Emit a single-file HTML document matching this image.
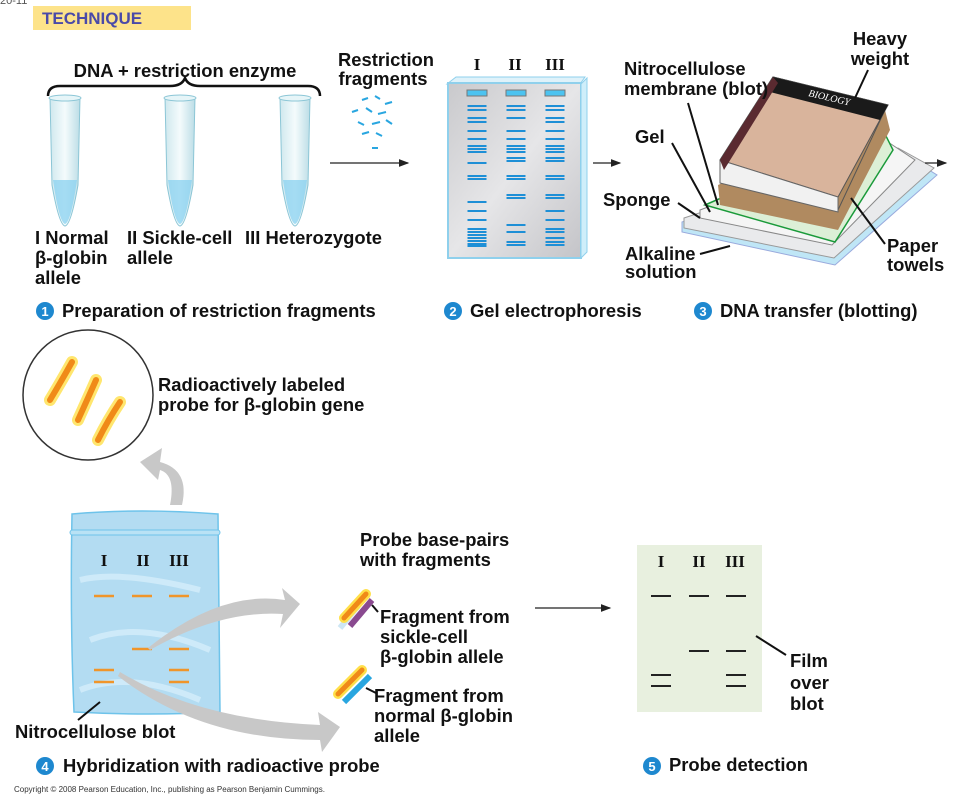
<!DOCTYPE html>
<html><head><meta charset="utf-8"><style>
html,body{margin:0;padding:0;background:#fff;}
svg{display:block;font-family:"Liberation Sans",sans-serif;}
.t{font-weight:bold;font-size:18.4px;fill:#111;}
.r{font-family:"Liberation Serif",serif;font-weight:bold;font-size:17px;fill:#111;}
</style></head><body>
<svg id="fig" width="960" height="799" viewBox="0 0 960 799">
<defs>
<marker id="ah" markerWidth="8" markerHeight="8" refX="7" refY="4" orient="auto"><path d="M0,1 L8,4 L0,7 z" fill="#222"/></marker>
<linearGradient id="tube" x1="0" x2="1"><stop offset="0" stop-color="#cfe8ee"/><stop offset="0.5" stop-color="#f4fbfc"/><stop offset="1" stop-color="#bcdde6"/></linearGradient>
<linearGradient id="gelg" x1="0" y1="0" x2="1" y2="1"><stop offset="0" stop-color="#c9c9cc"/><stop offset="0.5" stop-color="#e6e6e8"/><stop offset="1" stop-color="#c4c4c8"/></linearGradient>
</defs>

<text x="0" y="4" font-size="11" fill="#555">20-11</text>
<rect x="33" y="6" width="158" height="24" fill="#fde38a"/>
<text x="42" y="24" font-size="17" font-weight="bold" fill="#4a4aa8">TECHNIQUE</text>

<text class="t" x="185" y="77" text-anchor="middle">DNA + restriction enzyme</text>
<path d="M48,96 Q48,86 60,86 L170,86 Q182,86 185,78 Q188,86 200,86 L308,86 Q320,86 320,96" fill="none" stroke="#111" stroke-width="2.5"/>
<g id="tubes"></g>
<text class="t" x="35" y="244">I Normal</text>
<text class="t" x="35" y="264">β-globin</text>
<text class="t" x="35" y="284">allele</text>
<text class="t" x="127" y="244">II Sickle-cell</text>
<text class="t" x="127" y="264">allele</text>
<text class="t" x="245" y="244">III Heterozygote</text>

<text class="t" x="386" y="66" text-anchor="middle">Restriction</text>
<text class="t" x="383" y="85" text-anchor="middle">fragments</text>
<g stroke="#29a6e0" stroke-width="2">
<line x1="362" y1="100" x2="368" y2="98"/><line x1="375" y1="96" x2="380" y2="99"/><line x1="385" y1="104" x2="392" y2="102"/>
<line x1="352" y1="112" x2="358" y2="110"/><line x1="366" y1="108" x2="372" y2="112"/><line x1="378" y1="114" x2="386" y2="112"/>
<line x1="358" y1="122" x2="364" y2="125"/><line x1="372" y1="124" x2="380" y2="122"/><line x1="386" y1="120" x2="392" y2="124"/>
<line x1="362" y1="134" x2="369" y2="132"/><line x1="376" y1="133" x2="382" y2="136"/><line x1="372" y1="148" x2="378" y2="148"/>
</g>
<line x1="330" y1="163" x2="408" y2="163" stroke="#222" stroke-width="1.3" marker-end="url(#ah)"/>

<text class="r" x="477" y="70" text-anchor="middle">I</text>
<text class="r" x="515" y="70" text-anchor="middle">II</text>
<text class="r" x="555" y="70" text-anchor="middle">III</text>
<polygon points="447,84 456,77 585,77 580,84" fill="#dff2fa" stroke="#8fd0ec"/>
<rect x="448" y="83" width="133" height="175" fill="url(#gelg)" stroke="#8fd0ec" stroke-width="2"/>
<polygon points="581,84 587,78 587,252 581,258" fill="#cfeefa" stroke="#8fd0ec"/>
<g id="gelbands"></g>
<line x1="593" y1="163" x2="620" y2="163" stroke="#222" stroke-width="1.3" marker-end="url(#ah)"/>

<g>
<polygon points="682,222 900,152 937,175 835,265 682,232" fill="#bfe6f6" stroke="#9ad" />
<polygon points="684,218 898,148 934,168 834,258 684,228" fill="#e9eaec" stroke="#999"/>
<polygon points="700,210 885,140 915,160 832,245 700,218" fill="#f5f5f5" stroke="#888"/>
<polygon points="705,205 882,128 893,150 835,242" fill="#dcefd6" stroke="#1a9a3a" stroke-width="1.5"/>
<polygon points="718,185 885,110 890,130 838,230 720,205" fill="#b08a60"/>
<polygon points="720,160 773,77 888,105 838,197" fill="#d9b49c" stroke="#555"/>
<polygon points="720,160 773,77 888,105 885,110 838,210 720,183" fill="none" stroke="#555"/>
<polygon points="720,160 838,197 838,212 720,183" fill="#f1f1f1" stroke="#666"/>
<polygon points="773,77 888,105 880,120 770,92" fill="#1a1a1a"/>
<polygon points="720,160 773,77 778,83 724,170" fill="#5a2a30"/>
<text x="808" y="96" font-family="Liberation Serif" font-style="italic" font-size="10" fill="#fff" transform="rotate(13 808 96)">BIOLOGY</text>
</g>
<text class="t" x="880" y="45" text-anchor="middle">Heavy</text>
<text class="t" x="880" y="65" text-anchor="middle">weight</text>
<line x1="868" y1="70" x2="855" y2="98" stroke="#111" stroke-width="2"/>
<text class="t" x="624" y="75">Nitrocellulose</text>
<text class="t" x="624" y="95">membrane (blot)</text>
<line x1="688" y1="103" x2="718" y2="205" stroke="#111" stroke-width="2"/>
<text class="t" x="635" y="143">Gel</text>
<line x1="672" y1="143" x2="710" y2="212" stroke="#111" stroke-width="2"/>
<text class="t" x="603" y="206">Sponge</text>
<line x1="678" y1="203" x2="700" y2="218" stroke="#111" stroke-width="2"/>
<text class="t" x="625" y="260">Alkaline</text>
<text class="t" x="625" y="278">solution</text>
<line x1="700" y1="254" x2="730" y2="246" stroke="#111" stroke-width="2"/>
<text class="t" x="887" y="252">Paper</text>
<text class="t" x="887" y="271">towels</text>
<line x1="885" y1="244" x2="851" y2="198" stroke="#111" stroke-width="2"/>
<line x1="925" y1="163" x2="946" y2="163" stroke="#222" stroke-width="1.3" marker-end="url(#ah)"/>

<g><circle cx="45" cy="311" r="9" fill="#1e88cf"/><text x="45" y="316" font-size="13" font-weight="bold" fill="#fff" text-anchor="middle">1</text><text class="t" x="62" y="317">Preparation of restriction fragments</text></g>
<g><circle cx="453" cy="311" r="9" fill="#1e88cf"/><text x="453" y="316" font-size="13" font-weight="bold" fill="#fff" text-anchor="middle">2</text><text class="t" x="470" y="317">Gel electrophoresis</text></g>
<g><circle cx="703" cy="311" r="9" fill="#1e88cf"/><text x="703" y="316" font-size="13" font-weight="bold" fill="#fff" text-anchor="middle">3</text><text class="t" x="720" y="317">DNA transfer (blotting)</text></g>

<circle cx="88" cy="395" r="65" fill="#fff" stroke="#333" stroke-width="1.5"/>
<g stroke="#ffe04a" stroke-width="12" stroke-linecap="round" fill="none" opacity="0.8">
<path d="M50,400 Q62,380 72,362"/><path d="M78,420 Q88,398 96,380"/><path d="M98,440 Q108,420 120,402"/></g>
<g stroke="#f08a18" stroke-width="6" stroke-linecap="round" fill="none">
<path d="M50,400 Q62,380 72,362"/><path d="M78,420 Q88,398 96,380"/><path d="M98,440 Q108,420 120,402"/></g>
<text class="t" x="158" y="391">Radioactively labeled</text>
<text class="t" x="158" y="411">probe for β-globin gene</text>
<path d="M182,505 Q190,470 160,462 L162,448 L140,462 L158,480 L160,470 Q176,475 170,505 z" fill="#c8c8c8"/>

<path d="M72,514 Q140,508 218,514 L220,712 Q150,716 74,712 Q70,620 72,514 z" fill="#b3dcf2" stroke="#6ec3ea" stroke-width="1.5"/>
<rect x="70" y="530" width="150" height="5" rx="2.5" fill="#b9e2f5" stroke="#6ec3ea"/>
<path d="M80,580 Q120,570 200,590 M90,640 Q140,620 210,650 M80,690 Q130,670 200,700" stroke="#d5eefa" stroke-width="6" fill="none" opacity="0.8"/>
<text class="r" x="104" y="566" text-anchor="middle">I</text>
<text class="r" x="143" y="566" text-anchor="middle">II</text>
<text class="r" x="179" y="566" text-anchor="middle">III</text>
<g id="blotbands"></g>
<path d="M148,648 Q220,590 285,600 L282,588 L300,604 L280,628 L283,614 Q220,610 150,650 z" fill="#c8c8c8"/>
<path d="M120,672 Q200,720 320,725 L318,712 L340,727 L322,752 L320,740 Q200,740 118,676 z" fill="#c8c8c8"/>
<line x1="100" y1="702" x2="78" y2="720" stroke="#111" stroke-width="2"/>
<text class="t" x="15" y="738">Nitrocellulose blot</text>

<text class="t" x="360" y="546">Probe base-pairs</text>
<text class="t" x="360" y="566">with fragments</text>
<g>
<line x1="340" y1="628" x2="358" y2="606" stroke="#cde6f4" stroke-width="6"/>
<line x1="350" y1="626" x2="372" y2="600" stroke="#8a4a90" stroke-width="6"/>
<line x1="344" y1="618" x2="366" y2="594" stroke="#ffe04a" stroke-width="10" stroke-linecap="round"/>
<line x1="344" y1="618" x2="366" y2="594" stroke="#f08a18" stroke-width="5" stroke-linecap="round"/>
<line x1="372" y1="605" x2="378" y2="612" stroke="#111" stroke-width="2"/></g>
<text class="t" x="380" y="623">Fragment from</text>
<text class="t" x="380" y="643">sickle-cell</text>
<text class="t" x="380" y="663">β-globin allele</text>
<g>
<line x1="344" y1="702" x2="370" y2="676" stroke="#29a6e0" stroke-width="6"/>
<line x1="338" y1="694" x2="362" y2="670" stroke="#ffe04a" stroke-width="10" stroke-linecap="round"/>
<line x1="338" y1="694" x2="362" y2="670" stroke="#f08a18" stroke-width="5" stroke-linecap="round"/>
<line x1="366" y1="688" x2="376" y2="693" stroke="#111" stroke-width="2"/></g>
<text class="t" x="374" y="702">Fragment from</text>
<text class="t" x="374" y="722">normal β-globin</text>
<text class="t" x="374" y="742">allele</text>
<line x1="535" y1="608" x2="610" y2="608" stroke="#222" stroke-width="1.3" marker-end="url(#ah)"/>

<rect x="637" y="545" width="125" height="167" fill="#e8f0df"/>
<text class="r" x="661" y="567" text-anchor="middle">I</text>
<text class="r" x="699" y="567" text-anchor="middle">II</text>
<text class="r" x="735" y="567" text-anchor="middle">III</text>
<g id="filmbands"></g>
<line x1="756" y1="636" x2="786" y2="655" stroke="#111" stroke-width="2"/>
<text class="t" x="790" y="667">Film</text>
<text class="t" x="790" y="689">over</text>
<text class="t" x="790" y="710">blot</text>

<g><circle cx="45" cy="766" r="9" fill="#1e88cf"/><text x="45" y="771" font-size="13" font-weight="bold" fill="#fff" text-anchor="middle">4</text><text class="t" x="63" y="772">Hybridization with radioactive probe</text></g>
<g><circle cx="652" cy="766" r="9" fill="#1e88cf"/><text x="652" y="771" font-size="13" font-weight="bold" fill="#fff" text-anchor="middle">5</text><text class="t" x="669" y="771">Probe detection</text></g>
<text x="14" y="792" font-size="8" fill="#333">Copyright © 2008 Pearson Education, Inc., publishing as Pearson Benjamin Cummings.</text>
</svg>
<script>
const NS="http://www.w3.org/2000/svg";
const laneNames=["I","II","III"];
const gelLane1=[106,110,118,122,131,139,146,149,152,163,176,179,202,211,220,229,232,235,238,241,244,246];
const gelLane2=[106,110,118,131,139,146,149,152,158,161,176,179,195,198,225,232,242,245];
const gelLane3=[106,110,118,122,131,139,146,149,152,158,161,176,179,195,198,211,220,229,232,238,242,245];
const blotLane1=[596,670,682];
const blotLane2=[596,649];
const blotLane3=[596,649,670,682];
const filmLane1=[596,675,686];
const filmLane2=[596,651];
const filmLane3=[596,651,675,686];
function draw(gid,lanes,xs,w,color,sw,name){
  const g=document.getElementById(gid);
  lanes.forEach((arr,i)=>arr.forEach(y=>{
    const l=document.createElementNS(NS,"line");
    l.setAttribute("x1",xs[i]-w/2);l.setAttribute("x2",xs[i]+w/2);
    l.setAttribute("y1",y);l.setAttribute("y2",y);
    l.setAttribute("stroke",color);l.setAttribute("stroke-width",sw);
    
    
    g.appendChild(l);
  }));
}
draw("gelbands",[gelLane1,gelLane2,gelLane3],[477,516,555],19,"#1e8fd6",2,"gel-band");
const g0=document.getElementById("gelbands");
[477,516,555].forEach(x=>{const r=document.createElementNS(NS,"rect");r.setAttribute("x",x-10);r.setAttribute("y",90);r.setAttribute("width",20);r.setAttribute("height",6);r.setAttribute("fill","#4cc3f0");r.setAttribute("stroke","#777");


g0.appendChild(r);});
draw("blotbands",[blotLane1,blotLane2,blotLane3],[104,142,179],20,"#f0952a",2.5,"blot-band");
draw("filmbands",[filmLane1,filmLane2,filmLane3],[661,699,736],20,"#222",2,"film-band");
const tg=document.getElementById("tubes");
[65,180,295].forEach((x,i)=>{
  const p=document.createElementNS(NS,"path");
  p.setAttribute("d",`M${x-15},97 L${x+15},97 L${x+13},185 Q${x+6},225 ${x},226 Q${x-6},225 ${x-13},185 z`);
  p.setAttribute("fill","url(#tube)");p.setAttribute("stroke","#8cc6d6");
  
  
  tg.appendChild(p);
  const e=document.createElementNS(NS,"ellipse");
  e.setAttribute("cx",x);e.setAttribute("cy",98);e.setAttribute("rx",16);e.setAttribute("ry",3);e.setAttribute("fill","#e6f5f8");e.setAttribute("stroke","#8cc6d6");
  
  
  tg.appendChild(e);
  const d=document.createElementNS(NS,"path");
  d.setAttribute("d",`M${x-12},180 L${x+12},180 Q${x+6},222 ${x},224 Q${x-6},222 ${x-12},180 z`);
  d.setAttribute("fill","#8ad2f0");d.setAttribute("opacity","0.75");
  
  
  tg.appendChild(d);
});
</script>
</body></html>
